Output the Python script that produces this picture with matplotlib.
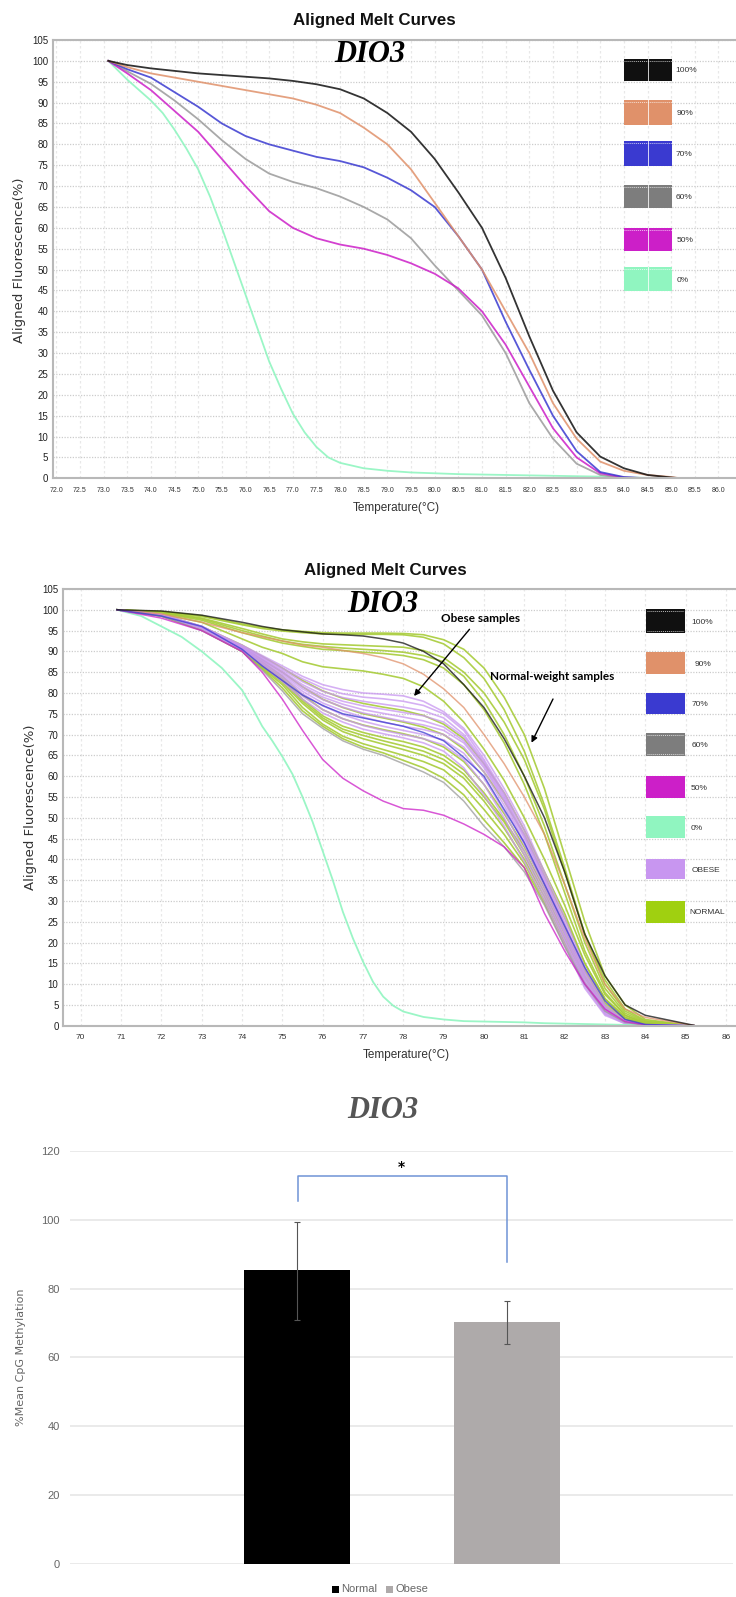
import matplotlib
matplotlib.use("Agg")
import matplotlib.pyplot as plt
from matplotlib.patches import Rectangle

W, H = 736, 1597
SANS = ['Liberation Sans', 'DejaVu Sans']

# top chart: standards only
temps_a = [73.1, 73.5, 74, 74.5, 75, 75.5, 76, 76.5, 77, 77.5, 78, 78.5, 79, 79.5, 80, 80.5, 81, 81.5, 82, 82.5, 83, 83.5, 84, 84.5, 85, 85.2]
a_100 = [100, 99, 98.2, 97.6, 97, 96.6, 96.2, 95.8, 95.2, 94.4, 93.2, 91, 87.5, 83, 76.5, 68.5, 60, 48, 34, 21, 11, 5.2, 2.4, 0.8, 0.2, 0]
a_90 = [100, 98.5, 97, 96, 95, 94, 93, 92, 91, 89.5, 87.5, 84, 80, 74, 66, 58, 50, 40, 30, 18, 9.5, 4, 1.8, 0.8, 0.3, 0]
a_70 = [100, 98, 96, 92.5, 89, 85, 82, 80, 78.5, 77, 76, 74.5, 72, 69, 65, 58, 50, 37.5, 26, 15, 6.5, 1.5, 0.3, 0, 0, 0]
a_60 = [100, 97.5, 94.5, 90.5, 86, 81, 76.5, 73, 71, 69.5, 67.5, 65, 62, 57.5, 51, 45, 39, 30, 18, 9.5, 3.5, 0.8, 0.1, 0, 0, 0]
a_50 = [100, 97, 93, 88, 83, 76.5, 70, 64, 60, 57.5, 56, 55, 53.5, 51.5, 49, 45.5, 40, 32, 22, 12, 5, 1.2, 0.2, 0, 0, 0]
temps_a0 = [73.1, 73.5, 74, 74.25, 74.5, 74.75, 75, 75.25, 75.5, 75.75, 76, 76.25, 76.5, 76.75, 77, 77.25, 77.5, 77.75, 78,
            78.5, 79, 79.5, 80, 80.5, 81, 81.5, 82, 82.5, 83, 83.5, 84, 84.5, 85, 85.2]
a_0 = [100, 95.5, 90.5, 87.5, 83.5, 79, 74, 67.5, 60, 52, 44, 36, 28, 21.5, 15.5, 11, 7.5, 5, 3.7,
       2.4, 1.8, 1.4, 1.2, 1, 0.9, 0.8, 0.7, 0.6, 0.5, 0.4, 0.2, 0.1, 0, 0]

# middle chart: standards plus samples
temps_b = [70.9, 72, 73, 74, 74.5, 75, 75.5, 76, 76.5, 77, 77.5, 78, 78.5, 79, 79.5, 80, 80.5, 81, 81.5, 82, 82.5, 83, 83.5, 84, 85, 85.2]
b_100 = [100, 99.7, 98.7, 97, 96, 95.2, 94.7, 94.2, 94, 93.7, 93, 92, 90, 87, 82, 76.5, 69, 60, 50, 37, 22, 12, 5, 2.5, 0.5, 0.1]
b_90 = [100, 99, 97, 94.5, 93.5, 92.5, 91.5, 91, 90.2, 89.5, 88.5, 87, 84.5, 81, 76.5, 70, 63, 55, 46, 34, 21, 10, 4, 2, 0.4, 0]
b_70 = [100, 98.5, 96, 90.5, 86.5, 83, 79.5, 77, 75, 74, 73, 72, 70.5, 68.5, 64.5, 60, 52, 44, 34, 24, 14, 6, 1.5, 0.3, 0, 0]
b_60 = [100, 98.5, 95, 90, 85.5, 80.5, 75, 71.5, 68.5, 66.5, 65, 63, 61, 58.5, 54, 48, 43, 37, 29, 19, 10, 3.5, 0.8, 0.1, 0, 0]
b_50 = [100, 98, 95, 90, 85, 78.5, 71, 64, 59.5, 56.5, 54, 52.2, 51.8, 50.6, 48.5, 46, 43, 38, 27, 18, 10, 4, 1, 0.2, 0, 0]
temps_b0 = [70.9, 71.5, 72, 72.5, 73, 73.5, 74, 74.25, 74.5, 74.75, 75, 75.25, 75.5, 75.75, 76, 76.25, 76.5, 76.75, 77, 77.25, 77.5, 77.75, 78,
            78.5, 79, 79.5, 80, 80.5, 81, 81.5, 82, 82.5, 83, 83.5, 84, 85]
b_0 = [100, 98.5, 96, 93.5, 90, 86, 80.7, 76.5, 72, 68.5, 64.7, 60.5, 55, 49, 42, 35, 27.4, 21, 15.4, 10.5, 7, 4.8, 3.4,
       2.1, 1.5, 1.1, 1, 0.9, 0.8, 0.6, 0.5, 0.4, 0.3, 0.2, 0.1, 0]

normal_samples = [
    [100, 99.6, 98.6, 96.6, 95.8, 95.2, 94.8, 94.5, 94.4, 94.4, 94.4, 94.3, 94, 92.8, 90.5, 86, 79, 70, 57, 41, 25, 12, 5, 1.5, 0.2, 0],
    [100, 99.5, 98.4, 96.4, 95.5, 94.9, 94.5, 94.2, 94.1, 94.1, 94.1, 94, 93.4, 91.8, 88.5, 83.5, 76, 66, 53, 38, 22, 11, 4, 1.2, 0.2, 0],
    [100, 99.4, 98, 95.5, 94.2, 93, 92.3, 91.8, 91.6, 91.4, 91.2, 91, 90.2, 88.5, 85, 80, 73, 64, 52, 37, 22, 10, 3.5, 1, 0.1, 0],
    [100, 99.3, 97.8, 95, 93.7, 92.5, 91.7, 91.2, 90.8, 90.5, 90.2, 89.8, 89, 87.5, 84, 78, 70, 60, 48, 34, 20, 9, 3, 0.8, 0.1, 0],
    [100, 99.2, 97.5, 94.5, 93.2, 92, 91.2, 90.5, 90.2, 89.8, 89.5, 89, 88, 86, 82, 76, 68, 58, 46, 32, 18, 8, 2.5, 0.6, 0.1, 0],
    [100, 99, 97, 93, 91, 89.5, 87.5, 86.3, 85.8, 85.3, 84.5, 83.5, 81.5, 78, 73, 66.5, 59, 50, 40, 29, 17, 7.5, 2.5, 0.6, 0.1, 0],
    [100, 98.9, 96, 91.5, 88.8, 86, 83, 80.5, 78.7, 77.5, 76.6, 75.8, 74.6, 72.5, 69, 63, 56, 47, 37, 27, 15, 6.5, 2, 0.4, 0, 0],
    [100, 98.8, 95.8, 91, 88, 85, 81.5, 78.5, 76.5, 75, 74, 73, 71.8, 70, 66.5, 61, 54, 46, 36, 26, 15, 6.5, 2, 0.4, 0, 0],
    [100, 98.7, 95.6, 90.5, 87.5, 84, 79.5, 76, 73.8, 72.3, 71.2, 70.2, 69, 67, 63.5, 58, 51, 43, 34, 24, 13.5, 5.5, 1.6, 0.3, 0, 0],
    [100, 98.7, 95.5, 90.3, 87, 83.5, 78.5, 74.5, 72, 70.5, 69.3, 68.3, 67, 65, 61.5, 56, 49.5, 42, 33, 23, 13, 5, 1.4, 0.3, 0, 0],
    [100, 98.6, 95.4, 90.2, 86.6, 83, 78, 74, 71.3, 69.8, 68.5, 67.3, 66, 64, 60.5, 55, 49, 41, 32, 22, 12, 4.5, 1.2, 0.2, 0, 0],
    [100, 98.6, 95.3, 90.1, 86.3, 82.5, 77.5, 73.5, 70.7, 69, 67.7, 66.4, 65, 63, 59.5, 54, 47.5, 40, 31, 21, 11.5, 4.2, 1.1, 0.2, 0, 0],
    [100, 98.5, 95.2, 90, 86, 82, 76.5, 72.5, 69.6, 67.8, 66.4, 65, 63.5, 61.5, 57.5, 52, 46, 39, 30, 20, 10.5, 4, 1, 0.2, 0, 0],
    [100, 98.5, 95.1, 90, 85.8, 81.2, 75.7, 72, 69, 67, 65.6, 63.8, 62, 59.5, 55.5, 49.5, 44, 38, 29.5, 19.5, 10, 3.6, 0.9, 0.1, 0, 0],
]

obese_samples = [
    [100, 98.9, 96, 91.5, 89, 86.5, 84, 82, 80.8, 80, 79.7, 79.3, 78, 75.5, 71.5, 65, 57, 48, 37, 26, 14, 5, 1.2, 0.2, 0, 0],
    [100, 98.9, 96, 91.3, 88.7, 86, 83.4, 81.2, 79.8, 79, 78.6, 78, 77, 75, 71, 64, 56, 47, 36, 25, 13, 4.5, 1, 0.2, 0, 0],
    [100, 98.8, 95.9, 91.2, 88.5, 85.6, 82.7, 80.4, 78.9, 78, 77.3, 76.6, 75.7, 74, 70, 63.5, 55.5, 46, 35.5, 24.5, 12.5, 4.2, 1, 0.1, 0, 0],
    [100, 98.8, 95.9, 91, 88.2, 85.2, 82, 79.6, 78, 76.9, 76.1, 75.3, 74.5, 73, 69.5, 63, 55, 45.5, 35, 24, 12, 4, 0.9, 0.1, 0, 0],
    [100, 98.8, 95.8, 90.9, 88, 84.9, 81.5, 79, 77.3, 76, 75.1, 74.2, 73.3, 71.8, 68.5, 62.5, 54.5, 45, 34.5, 23, 11.5, 3.8, 0.8, 0.1, 0, 0],
    [100, 98.7, 95.8, 90.8, 87.7, 84.5, 81, 78.4, 76.6, 75.2, 74.2, 73.2, 72.3, 71, 68, 62, 54, 44, 34, 22.5, 11, 3.5, 0.8, 0.1, 0, 0],
    [100, 98.7, 95.7, 90.6, 87.5, 84.1, 80.4, 77.6, 75.7, 74.2, 73, 72, 71.2, 70, 67, 61, 53, 43.5, 33, 22, 10.5, 3.3, 0.7, 0.1, 0, 0],
    [100, 98.7, 95.6, 90.5, 87.2, 83.7, 79.8, 76.9, 74.8, 73.2, 72, 71, 70, 68.7, 65.5, 59.5, 51.5, 42, 32, 21, 10, 3, 0.6, 0.1, 0, 0],
    [100, 98.6, 95.5, 90.3, 86.9, 83.2, 79.2, 76, 73.8, 72.2, 71, 70, 69, 67.5, 64, 58, 50, 41, 31, 20.5, 9.5, 2.8, 0.5, 0.1, 0, 0],
    [100, 98.6, 95.4, 90.2, 86.6, 82.8, 78.5, 75.2, 73, 71.3, 70.2, 69.2, 68, 66, 62, 55.5, 48, 39.5, 30, 19.5, 9, 2.5, 0.5, 0.1, 0, 0],
]

# bottom chart
groups = ['Normal', 'Obese']
means = [85.4, 70.3]
err_up = [14.1, 6.2]
err_down = [14.5, 6.3]

ticks_a = [72 + 0.5 * i for i in range(29)]
ticks_b = list(range(70, 87))
ticks_y = list(range(0, 110, 5))
ticks_c = [0, 20, 40, 60, 80, 100, 120]

col_100, col_90, col_70 = '#101010', '#e0916a', '#3a3ad0'
col_60, col_50, col_0 = '#7d7d7d', '#cc1fc8', '#90f5c0'
col_obese, col_normal = '#c896f0', '#a0d010'


def px_axes(fig, left, right, top, bottom):
    return fig.add_axes([left / W, 1 - bottom / H, (right - left) / W, (bottom - top) / H])


def melt_style(ax, xlim, xticks, xlabels, xsize):
    ax.set_xlim(*xlim)
    ax.set_ylim(0, 105)
    ax.set_xticks(xticks)
    ax.set_xticklabels(xlabels, family=SANS, fontsize=xsize, color='#333333')
    ax.set_yticks(ticks_y)
    ax.set_yticklabels([str(v) for v in ticks_y], family=SANS, fontsize=7, color='#222222')
    ax.tick_params(axis='y', length=0, pad=3.5)
    ax.tick_params(axis='x', length=0, pad=6)
    ax.grid(axis='y', color='#cccccc', lw=0.9, ls=(0, (1, 1.2)))
    ax.grid(axis='x', color='#e8e8e8', lw=0.9, ls=(0, (2, 2)))
    ax.set_axisbelow(True)
    ax.spines['right'].set_visible(False)
    for side in ['left', 'bottom', 'top']:
        ax.spines[side].set_color('#b8b8b8')
        ax.spines[side].set_linewidth(1.5)


fig = plt.figure(figsize=(W / 100, H / 100), dpi=100)

# top chart
ax1 = px_axes(fig, 53, 736, 40, 478.3)
melt_style(ax1, (71.93, 86.37), ticks_a, ['%.1f' % t for t in ticks_a], 5)
ax1.plot(temps_a0, a_0, color=col_0, lw=1.3, alpha=0.9)
for vals, col in [(a_60, '#9a9a9a'), (a_50, col_50), (a_70, col_70), (a_90, col_90), (a_100, col_100)]:
    ax1.plot(temps_a, vals, color=col, lw=1.3, alpha=0.85, solid_joinstyle='round')

# middle chart
ax2 = px_axes(fig, 63.4, 736, 589, 1025.7)
melt_style(ax2, (69.57, 86.25), ticks_b, [str(t) for t in ticks_b], 6)
for vals in normal_samples:
    ax2.plot(temps_b, vals, color='#a8cc3a', lw=1.2, alpha=0.9)
for vals in obese_samples:
    ax2.plot(temps_b, vals, color=col_obese, lw=1.2, alpha=0.75)
ax2.plot(temps_b0, b_0, color=col_0, lw=1.3, alpha=0.9)
for vals, col in [(b_60, '#9a9a9a'), (b_50, col_50), (b_90, col_90), (b_70, col_70), (b_100, col_100)]:
    ax2.plot(temps_b, vals, color=col, lw=1.1, alpha=0.75)

# bottom chart
ax3 = px_axes(fig, 70.4, 733, 1151, 1563.7)
ax3.bar([0, 1], means, width=0.505, color=['#000000', '#aeaaaa'], zorder=2)
ax3.errorbar([0, 1], means, yerr=[err_down, err_up], fmt='none', ecolor='#555555', elinewidth=0.8, capsize=2, capthick=0.8, zorder=3)
ax3.set_xlim(-1.079, 2.076)
ax3.set_ylim(0, 120)
ax3.set_xticks([])
ax3.set_yticks(ticks_c)
ax3.set_yticklabels([str(v) for v in ticks_c], family=SANS, fontsize=8, color='#666666')
ax3.tick_params(length=0, pad=7.5)
ax3.grid(axis='y', color='#e4e4e4', lw=1.1, zorder=0)
ax3.set_axisbelow(True)
for s in ax3.spines.values():
    s.set_visible(False)

# overlay in pixel coordinates for the pasted-on labels and swatches
ov = fig.add_axes([0, 0, 1, 1])
ov.set_xlim(0, W)
ov.set_ylim(H, 0)
ov.axis('off')
ov.patch.set_alpha(0)


def swatch(x0, x1, y0, y1, col, label, lx, mark='none'):
    ov.add_patch(Rectangle((x0, y0), x1 - x0, y1 - y0, facecolor=col, edgecolor='none'))
    if mark == 'cross':
        xm = (x0 + x1) / 2
        ov.plot([xm, xm], [y0, y1], color='white', lw=0.7, alpha=0.8)
        ov.plot([x0, x1], [y0 + 2, y0 + 2], color='white', lw=0.7, ls=(0, (1, 1)), alpha=0.7)
    if mark == 'edge':
        ov.plot([x0 + 1, x1 - 1], [y0 + 2, y0 + 2], color='white', lw=0.7, ls=(0, (1, 1)), alpha=0.7)
        ov.plot([x0 + 1, x1 - 1], [y1 - 2, y1 - 2], color='white', lw=0.7, ls=(0, (1, 1)), alpha=0.7)
    ov.text(lx, (y0 + y1) / 2 + 1, label, family=SANS, fontsize=6, color='#333333', va='center', ha='left')


legend_a = [(59, 81, col_100, '100%', 675), (100, 125, col_90, '90%', 677), (141, 166, col_70, '70%', 676),
            (185, 208, col_60, '60%', 676), (228, 251, col_50, '50%', 677), (267, 291, col_0, '0%', 677)]
for y0, y1, col, lab, lx in legend_a:
    swatch(624, 672, y0, y1, col, lab, lx, mark='cross')

legend_b = [(609, 633, col_100, '100%', 691, 'edge'), (652, 674, col_90, '90%', 695, 'none'), (693, 714, col_70, '70%', 692, 'none'),
            (733, 756, col_60, '60%', 692, 'edge'), (776, 798, col_50, '50%', 691, 'none'), (816, 838, col_0, '0%', 691, 'none'),
            (859, 879, col_obese, 'OBESE', 692, 'none'), (901, 923, col_normal, 'NORMAL', 689, 'none')]
for y0, y1, col, lab, lx, mk in legend_b:
    swatch(645.5, 685, y0, y1, col, lab, lx, mark=mk)

title_kw = dict(family=SANS, fontsize=12.2, fontweight='bold', color='#111111', ha='center', va='center')
ov.text(374, 21, 'Aligned Melt Curves', **title_kw)
ov.text(385, 570, 'Aligned Melt Curves', **title_kw)

dio_kw = dict(family=['Liberation Serif', 'DejaVu Serif'], fontsize=22, fontweight='bold', style='italic', ha='center', va='center')
ov.text(369.5, 54, 'DIO3', color='black', **dio_kw)
ov.text(382.6, 605, 'DIO3', color='black', **dio_kw)
ov.text(382.6, 1111, 'DIO3', color='#555555', **dio_kw)

lab_kw = dict(family=SANS, fontsize=8.5, color='#333333', ha='center', va='center')
ov.text(396, 508, 'Temperature(°C)', **lab_kw)
ov.text(406, 1055, 'Temperature(°C)', **lab_kw)

ylab_kw = dict(family='DejaVu Sans', rotation=90, ha='center', va='center')
ov.text(20, 260, 'Aligned Fluorescence(%)', color='#333333', fontsize=9.5, **ylab_kw)
ov.text(30.5, 807, 'Aligned Fluorescence(%)', color='#333333', fontsize=9.5, **ylab_kw)
ov.text(21, 1357, '%Mean CpG Methylation', color='#666666', fontsize=8, **ylab_kw)

note_kw = dict(family=['Lato', 'DejaVu Sans'], fontsize=8.5, fontweight='bold', color='black', ha='center', va='center')
ov.text(481, 618.7, 'Obese samples', **note_kw)
ov.text(552.6, 676.7, 'Normal-weight samples', **note_kw)
arrow_kw = dict(arrowstyle='-|>', color='black', lw=1, mutation_scale=9, shrinkA=0, shrinkB=0)
ov.annotate('', xy=(414, 696), xytext=(469.5, 629.3), arrowprops=arrow_kw)
ov.annotate('', xy=(531.5, 742.7), xytext=(553, 699), arrowprops=arrow_kw)

# significance bracket and legend of the bar chart
ov.plot([298, 298, 507, 507], [1201, 1176, 1176, 1262], color='#6f93d6', lw=1.1)
ov.text(401, 1167, '*', family='DejaVu Sans', fontsize=10, fontweight='bold', ha='center', va='center')
ov.add_patch(Rectangle((332, 1586), 6.5, 6.5, facecolor='black', edgecolor='none'))
ov.add_patch(Rectangle((386, 1586), 6.5, 6.5, facecolor='#aeaaaa', edgecolor='none'))
ov.text(341, 1589.5, groups[0], family=SANS, fontsize=8, color='#666666', va='center')
ov.text(396, 1589.5, groups[1], family=SANS, fontsize=8, color='#666666', va='center')

fig.savefig('out.png', dpi=100)
